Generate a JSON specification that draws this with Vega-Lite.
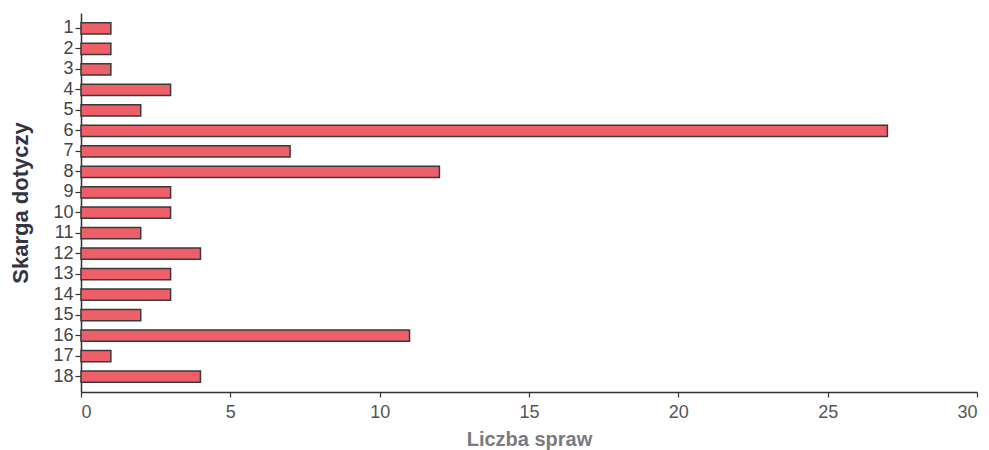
{
  "$schema": "https://vega.github.io/schema/vega-lite/v6.json",
  "autosize": {"type": "none"},
  "width": 896,
  "height": 379,
  "padding": {"left": 81, "top": 13, "right": 12, "bottom": 58},
  "background": "white",
  "data": {"values": [
    {"skarga": "1", "liczba": 1},
    {"skarga": "2", "liczba": 1},
    {"skarga": "3", "liczba": 1},
    {"skarga": "4", "liczba": 3},
    {"skarga": "5", "liczba": 2},
    {"skarga": "6", "liczba": 27},
    {"skarga": "7", "liczba": 7},
    {"skarga": "8", "liczba": 12},
    {"skarga": "9", "liczba": 3},
    {"skarga": "10", "liczba": 3},
    {"skarga": "11", "liczba": 2},
    {"skarga": "12", "liczba": 4},
    {"skarga": "13", "liczba": 3},
    {"skarga": "14", "liczba": 3},
    {"skarga": "15", "liczba": 2},
    {"skarga": "16", "liczba": 11},
    {"skarga": "17", "liczba": 1},
    {"skarga": "18", "liczba": 4}
  ]},
  "mark": {"type": "bar", "fill": "#ee5f69", "stroke": "#3a3a3a", "strokeWidth": 1.5},
  "encoding": {
    "y": {
      "field": "skarga", "type": "ordinal", "sort": null,
      "scale": {"paddingInner": 0.45, "paddingOuter": 0.48},
      "axis": {
        "title": "Skarga dotyczy", "titleFont": "Liberation Sans", "titleFontSize": 22, "titleFontWeight": "bold",
        "titleColor": "#333344", "titlePadding": 20,
        "labelFont": "Liberation Sans", "labelFontSize": 18, "labelColor": "#444444", "labelPadding": 2,
        "domainColor": "#333333", "domainWidth": 1.5, "tickColor": "#333333", "tickSize": 6, "tickWidth": 1.2
      }
    },
    "x": {
      "field": "liczba", "type": "quantitative",
      "scale": {"domain": [0, 30], "nice": false},
      "axis": {
        "title": "Liczba spraw", "titleFont": "Liberation Sans", "titleFontSize": 20, "titleFontWeight": "bold",
        "titleColor": "#7a7a80", "titlePadding": 8,
        "values": [0, 5, 10, 15, 20, 25, 30], "grid": false,
        "labelFont": "Liberation Sans", "labelFontSize": 18, "labelColor": "#555555", "labelPadding": 6,
        "domainColor": "#333333", "domainWidth": 1.5, "tickColor": "#333333", "tickSize": 5, "tickWidth": 1.2
      }
    }
  },
  "config": {"view": {"stroke": null}}
}
